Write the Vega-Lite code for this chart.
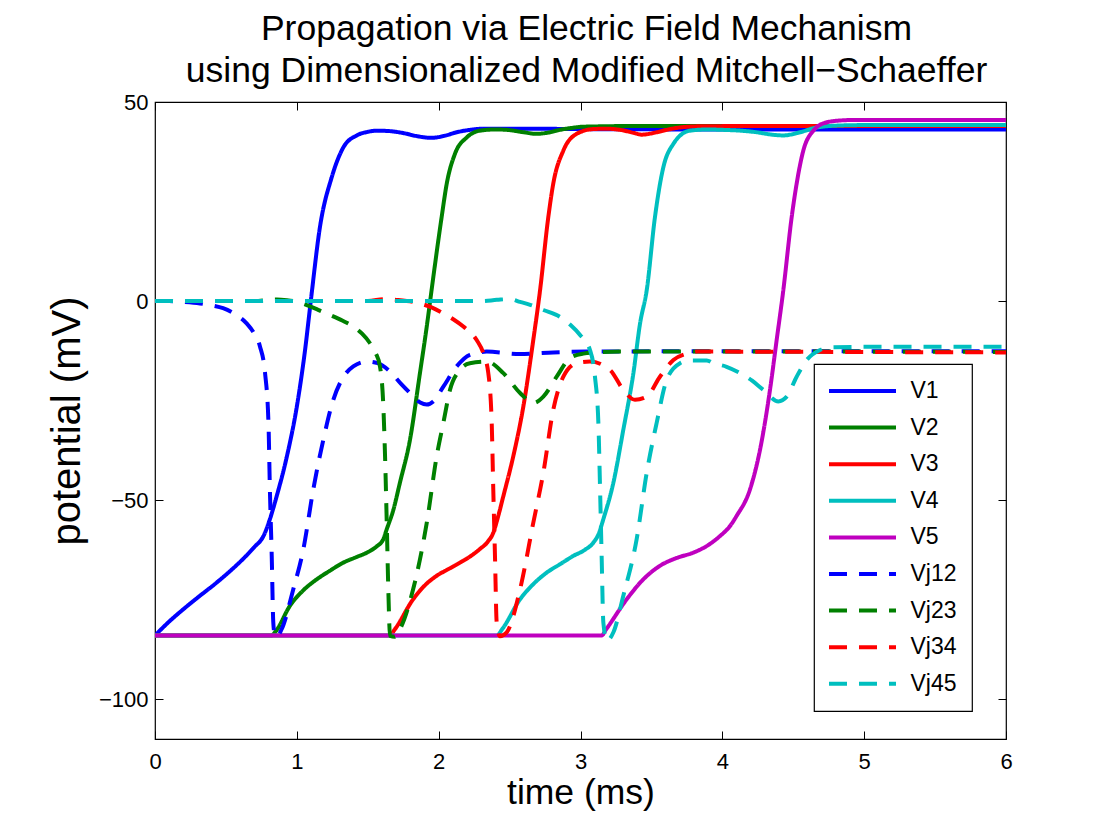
{
  "$schema": "https://vega.github.io/schema/vega-lite/v6.json",
  "width": 851,
  "height": 637,
  "autosize": {"type": "none"},
  "padding": {"left": 155, "top": 102, "right": 100, "bottom": 87},
  "background": "white",
  "config": {
    "font": "Liberation Sans",
    "view": {"stroke": "black", "strokeWidth": 1.2},
    "legend": {
      "orient": "none",
      "legendX": 659,
      "legendY": 262,
      "padding": 15,
      "strokeColor": "black",
      "strokeWidth": 1.2,
      "fillColor": "white",
      "cornerRadius": 0,
      "symbolType": "M-3.35,0H3.35",
      "symbolSize": 400,
      "symbolStrokeWidth": 4,
      "symbolOffset": 21.5,
      "labelFontSize": 23,
      "labelOffset": 36,
      "labelColor": "black",
      "rowPadding": 12.6,
      "labelLimit": 300
    }
  },
  "title": {
    "text": ["Propagation via Electric Field Mechanism", "using Dimensionalized Modified Mitchell−Schaeffer"],
    "fontSize": 35.5,
    "fontWeight": "normal",
    "lineHeight": 42,
    "offset": 2,
    "anchor": "middle",
    "dx": 6,
    "color": "black"
  },
  "layer": [
    {
      "data": {
        "values": [
          {"s":"V1","t":0,"v":-84},{"s":"V1","t":0.1,"v":-80.5},{"s":"V1","t":0.2,"v":-77.4},{"s":"V1","t":0.3,"v":-74.5},{"s":"V1","t":0.435,"v":-70.7},{"s":"V1","t":0.53,"v":-67.8},{"s":"V1","t":0.62,"v":-64.8},{"s":"V1","t":0.7,"v":-61.8},{"s":"V1","t":0.765,"v":-59},{"s":"V1","t":0.81,"v":-54.8},{"s":"V1","t":0.858,"v":-49},{"s":"V1","t":0.93,"v":-39},{"s":"V1","t":1.0,"v":-26.5},{"s":"V1","t":1.058,"v":-12.3},{"s":"V1","t":1.1,"v":0.5},{"s":"V1","t":1.163,"v":18.6},{"s":"V1","t":1.246,"v":31.1},{"s":"V1","t":1.328,"v":38.6},{"s":"V1","t":1.422,"v":41.6},{"s":"V1","t":1.5,"v":42.5},{"s":"V1","t":1.563,"v":42.8},{"s":"V1","t":1.65,"v":42.7},{"s":"V1","t":1.75,"v":42.2},{"s":"V1","t":1.85,"v":41.4},{"s":"V1","t":1.95,"v":41.0},{"s":"V1","t":2.04,"v":41.5},{"s":"V1","t":2.127,"v":42.4},{"s":"V1","t":2.22,"v":43.0},{"s":"V1","t":2.315,"v":43.3},{"s":"V1","t":2.6,"v":43.3},{"s":"V1","t":3,"v":43.2},{"s":"V1","t":4,"v":43.1},{"s":"V1","t":5,"v":43.1},{"s":"V1","t":6,"v":43.1},
          {"s":"V2","t":0,"v":-84},{"s":"V2","t":0.82,"v":-84},{"s":"V2","t":0.85,"v":-83},{"s":"V2","t":0.952,"v":-76.5},{"s":"V2","t":1.05,"v":-72.5},{"s":"V2","t":1.14,"v":-69.9},{"s":"V2","t":1.23,"v":-67.8},{"s":"V2","t":1.328,"v":-65.7},{"s":"V2","t":1.42,"v":-64.3},{"s":"V2","t":1.493,"v":-63.2},{"s":"V2","t":1.56,"v":-61.7},{"s":"V2","t":1.61,"v":-59.8},{"s":"V2","t":1.634,"v":-57.3},{"s":"V2","t":1.68,"v":-52.5},{"s":"V2","t":1.727,"v":-45.6},{"s":"V2","t":1.798,"v":-34.8},{"s":"V2","t":1.868,"v":-18.1},{"s":"V2","t":1.916,"v":-6.4},{"s":"V2","t":1.95,"v":2.75},{"s":"V2","t":2.021,"v":21.1},{"s":"V2","t":2.057,"v":29.5},{"s":"V2","t":2.115,"v":37},{"s":"V2","t":2.198,"v":41.1},{"s":"V2","t":2.291,"v":42.8},{"s":"V2","t":2.4,"v":43.1},{"s":"V2","t":2.48,"v":43},{"s":"V2","t":2.6,"v":42.4},{"s":"V2","t":2.69,"v":42.0},{"s":"V2","t":2.77,"v":42.3},{"s":"V2","t":2.855,"v":43},{"s":"V2","t":2.94,"v":43.5},{"s":"V2","t":3.02,"v":43.8},{"s":"V2","t":3.5,"v":44},{"s":"V2","t":4,"v":44},{"s":"V2","t":5,"v":44},{"s":"V2","t":6,"v":44},
          {"s":"V3","t":0,"v":-84},{"s":"V3","t":1.655,"v":-84},{"s":"V3","t":1.69,"v":-82.5},{"s":"V3","t":1.82,"v":-74.9},{"s":"V3","t":1.9,"v":-71.5},{"s":"V3","t":1.986,"v":-69},{"s":"V3","t":2.07,"v":-67.3},{"s":"V3","t":2.15,"v":-65.7},{"s":"V3","t":2.22,"v":-64.2},{"s":"V3","t":2.29,"v":-62.3},{"s":"V3","t":2.345,"v":-60.5},{"s":"V3","t":2.385,"v":-58.2},{"s":"V3","t":2.42,"v":-54},{"s":"V3","t":2.456,"v":-49},{"s":"V3","t":2.526,"v":-39},{"s":"V3","t":2.597,"v":-26.5},{"s":"V3","t":2.667,"v":-9.8},{"s":"V3","t":2.715,"v":2.75},{"s":"V3","t":2.773,"v":21.1},{"s":"V3","t":2.808,"v":29.5},{"s":"V3","t":2.879,"v":37.8},{"s":"V3","t":2.973,"v":42},{"s":"V3","t":3.09,"v":43.2},{"s":"V3","t":3.18,"v":43.3},{"s":"V3","t":3.28,"v":43},{"s":"V3","t":3.38,"v":42.2},{"s":"V3","t":3.43,"v":41.8},{"s":"V3","t":3.537,"v":42.4},{"s":"V3","t":3.62,"v":43.1},{"s":"V3","t":3.7,"v":43.6},{"s":"V3","t":3.85,"v":43.9},{"s":"V3","t":4.5,"v":44},{"s":"V3","t":6,"v":44},
          {"s":"V4","t":0,"v":-84},{"s":"V4","t":2.41,"v":-84},{"s":"V4","t":2.45,"v":-82.3},{"s":"V4","t":2.574,"v":-74.9},{"s":"V4","t":2.67,"v":-71},{"s":"V4","t":2.762,"v":-68.2},{"s":"V4","t":2.86,"v":-66},{"s":"V4","t":2.95,"v":-64},{"s":"V4","t":3.03,"v":-62.5},{"s":"V4","t":3.09,"v":-60.7},{"s":"V4","t":3.13,"v":-58.3},{"s":"V4","t":3.161,"v":-54.8},{"s":"V4","t":3.232,"v":-45.6},{"s":"V4","t":3.302,"v":-32.3},{"s":"V4","t":3.373,"v":-18.1},{"s":"V4","t":3.42,"v":-5.6},{"s":"V4","t":3.467,"v":2.75},{"s":"V4","t":3.525,"v":21.1},{"s":"V4","t":3.584,"v":33.6},{"s":"V4","t":3.655,"v":39.5},{"s":"V4","t":3.772,"v":42.8},{"s":"V4","t":3.9,"v":43.1},{"s":"V4","t":4.007,"v":43},{"s":"V4","t":4.13,"v":42.8},{"s":"V4","t":4.242,"v":42.4},{"s":"V4","t":4.35,"v":41.8},{"s":"V4","t":4.43,"v":41.6},{"s":"V4","t":4.548,"v":42.4},{"s":"V4","t":4.665,"v":43.6},{"s":"V4","t":4.83,"v":44.1},{"s":"V4","t":5,"v":44.2},{"s":"V4","t":6,"v":44.2},
          {"s":"V5","t":0,"v":-84},{"s":"V5","t":3.149,"v":-84},{"s":"V5","t":3.18,"v":-82.5},{"s":"V5","t":3.326,"v":-74.9},{"s":"V5","t":3.44,"v":-70},{"s":"V5","t":3.56,"v":-66.5},{"s":"V5","t":3.68,"v":-64.5},{"s":"V5","t":3.795,"v":-63.2},{"s":"V5","t":3.9,"v":-61.3},{"s":"V5","t":3.984,"v":-59},{"s":"V5","t":4.05,"v":-56.7},{"s":"V5","t":4.1,"v":-54},{"s":"V5","t":4.195,"v":-47.3},{"s":"V5","t":4.266,"v":-37.3},{"s":"V5","t":4.336,"v":-22.3},{"s":"V5","t":4.383,"v":-9.8},{"s":"V5","t":4.43,"v":2.75},{"s":"V5","t":4.489,"v":21.1},{"s":"V5","t":4.524,"v":29.5},{"s":"V5","t":4.571,"v":37.8},{"s":"V5","t":4.642,"v":42.8},{"s":"V5","t":4.736,"v":44.9},{"s":"V5","t":4.85,"v":45.4},{"s":"V5","t":4.947,"v":45.5},{"s":"V5","t":6,"v":45.5},
          {"s":"Vj12","t":0,"v":0},{"s":"Vj12","t":0.1,"v":0},{"s":"Vj12","t":0.2,"v":-0.2},{"s":"Vj12","t":0.317,"v":-0.6},{"s":"Vj12","t":0.4,"v":-1.1},{"s":"Vj12","t":0.48,"v":-1.8},{"s":"Vj12","t":0.56,"v":-3.2},{"s":"Vj12","t":0.646,"v":-5.6},{"s":"Vj12","t":0.7,"v":-8.2},{"s":"Vj12","t":0.74,"v":-11.4},{"s":"Vj12","t":0.776,"v":-18.1},{"s":"Vj12","t":0.8,"v":-30.6},{"s":"Vj12","t":0.81,"v":-47.3},{"s":"Vj12","t":0.823,"v":-64},{"s":"Vj12","t":0.834,"v":-80.7},{"s":"Vj12","t":0.845,"v":-84},{"s":"Vj12","t":0.86,"v":-84.2},{"s":"Vj12","t":0.893,"v":-82.4},{"s":"Vj12","t":0.975,"v":-72.4},{"s":"Vj12","t":1.046,"v":-62.3},{"s":"Vj12","t":1.116,"v":-47.3},{"s":"Vj12","t":1.187,"v":-34.8},{"s":"Vj12","t":1.257,"v":-24.8},{"s":"Vj12","t":1.316,"v":-19.8},{"s":"Vj12","t":1.398,"v":-16.4},{"s":"Vj12","t":1.493,"v":-15.2},{"s":"Vj12","t":1.57,"v":-15.6},{"s":"Vj12","t":1.657,"v":-17.7},{"s":"Vj12","t":1.74,"v":-21},{"s":"Vj12","t":1.798,"v":-23.1},{"s":"Vj12","t":1.87,"v":-25.5},{"s":"Vj12","t":1.916,"v":-26},{"s":"Vj12","t":1.962,"v":-25.2},{"s":"Vj12","t":2.033,"v":-21.5},{"s":"Vj12","t":2.127,"v":-16.4},{"s":"Vj12","t":2.22,"v":-13.5},{"s":"Vj12","t":2.339,"v":-12.7},{"s":"Vj12","t":2.574,"v":-13.3},{"s":"Vj12","t":2.808,"v":-12.9},{"s":"Vj12","t":3.04,"v":-12.7},{"s":"Vj12","t":4,"v":-12.6},{"s":"Vj12","t":5,"v":-12.6},{"s":"Vj12","t":6,"v":-12.6},
          {"s":"Vj23","t":0,"v":0},{"s":"Vj23","t":0.7,"v":0},{"s":"Vj23","t":0.86,"v":0.4},{"s":"Vj23","t":0.93,"v":0.2},{"s":"Vj23","t":1.0,"v":-0.2},{"s":"Vj23","t":1.07,"v":-1.0},{"s":"Vj23","t":1.15,"v":-2.2},{"s":"Vj23","t":1.234,"v":-3.5},{"s":"Vj23","t":1.32,"v":-4.9},{"s":"Vj23","t":1.398,"v":-6.4},{"s":"Vj23","t":1.46,"v":-8.2},{"s":"Vj23","t":1.516,"v":-10.6},{"s":"Vj23","t":1.555,"v":-13},{"s":"Vj23","t":1.586,"v":-16.4},{"s":"Vj23","t":1.61,"v":-26.5},{"s":"Vj23","t":1.622,"v":-39},{"s":"Vj23","t":1.634,"v":-55.7},{"s":"Vj23","t":1.645,"v":-72.4},{"s":"Vj23","t":1.657,"v":-84.1},{"s":"Vj23","t":1.69,"v":-84.3},{"s":"Vj23","t":1.727,"v":-82.4},{"s":"Vj23","t":1.82,"v":-72.4},{"s":"Vj23","t":1.916,"v":-55.7},{"s":"Vj23","t":1.986,"v":-39},{"s":"Vj23","t":2.033,"v":-30.6},{"s":"Vj23","t":2.08,"v":-22.3},{"s":"Vj23","t":2.15,"v":-17.3},{"s":"Vj23","t":2.22,"v":-15.6},{"s":"Vj23","t":2.339,"v":-15.2},{"s":"Vj23","t":2.456,"v":-18.1},{"s":"Vj23","t":2.574,"v":-23.1},{"s":"Vj23","t":2.667,"v":-25.6},{"s":"Vj23","t":2.738,"v":-24},{"s":"Vj23","t":2.832,"v":-19},{"s":"Vj23","t":2.926,"v":-14.3},{"s":"Vj23","t":3.02,"v":-13.2},{"s":"Vj23","t":3.114,"v":-12.9},{"s":"Vj23","t":3.28,"v":-12.7},{"s":"Vj23","t":4,"v":-12.7},{"s":"Vj23","t":5,"v":-12.7},{"s":"Vj23","t":6,"v":-12.8},
          {"s":"Vj34","t":0,"v":0},{"s":"Vj34","t":1.5,"v":0},{"s":"Vj34","t":1.62,"v":0.5},{"s":"Vj34","t":1.7,"v":0.3},{"s":"Vj34","t":1.868,"v":-0.6},{"s":"Vj34","t":1.95,"v":-1.6},{"s":"Vj34","t":2.033,"v":-3.1},{"s":"Vj34","t":2.1,"v":-4.5},{"s":"Vj34","t":2.174,"v":-6.4},{"s":"Vj34","t":2.268,"v":-9.8},{"s":"Vj34","t":2.315,"v":-13.1},{"s":"Vj34","t":2.35,"v":-18.1},{"s":"Vj34","t":2.374,"v":-30.6},{"s":"Vj34","t":2.385,"v":-47.3},{"s":"Vj34","t":2.397,"v":-64},{"s":"Vj34","t":2.409,"v":-80.7},{"s":"Vj34","t":2.432,"v":-84.2},{"s":"Vj34","t":2.48,"v":-83.2},{"s":"Vj34","t":2.574,"v":-72.4},{"s":"Vj34","t":2.667,"v":-55.7},{"s":"Vj34","t":2.738,"v":-43.1},{"s":"Vj34","t":2.808,"v":-27.3},{"s":"Vj34","t":2.879,"v":-19},{"s":"Vj34","t":2.973,"v":-15.6},{"s":"Vj34","t":3.067,"v":-15.2},{"s":"Vj34","t":3.208,"v":-17.3},{"s":"Vj34","t":3.302,"v":-22.3},{"s":"Vj34","t":3.384,"v":-24.8},{"s":"Vj34","t":3.467,"v":-24},{"s":"Vj34","t":3.56,"v":-19},{"s":"Vj34","t":3.655,"v":-14.8},{"s":"Vj34","t":3.75,"v":-13.2},{"s":"Vj34","t":3.82,"v":-12.7},{"s":"Vj34","t":4.03,"v":-12.7},{"s":"Vj34","t":5,"v":-12.8},{"s":"Vj34","t":6,"v":-12.9},
          {"s":"Vj45","t":0,"v":0},{"s":"Vj45","t":2.3,"v":0},{"s":"Vj45","t":2.41,"v":0.3},{"s":"Vj45","t":2.5,"v":0.5},{"s":"Vj45","t":2.574,"v":-0.2},{"s":"Vj45","t":2.65,"v":-1},{"s":"Vj45","t":2.738,"v":-2.25},{"s":"Vj45","t":2.856,"v":-4},{"s":"Vj45","t":2.93,"v":-6},{"s":"Vj45","t":2.997,"v":-8.5},{"s":"Vj45","t":3.067,"v":-12.3},{"s":"Vj45","t":3.102,"v":-19},{"s":"Vj45","t":3.126,"v":-30.6},{"s":"Vj45","t":3.138,"v":-47.3},{"s":"Vj45","t":3.149,"v":-64},{"s":"Vj45","t":3.161,"v":-80.7},{"s":"Vj45","t":3.185,"v":-85.3},{"s":"Vj45","t":3.232,"v":-83.2},{"s":"Vj45","t":3.302,"v":-74},{"s":"Vj45","t":3.396,"v":-59.8},{"s":"Vj45","t":3.467,"v":-43.1},{"s":"Vj45","t":3.537,"v":-30.6},{"s":"Vj45","t":3.608,"v":-19.8},{"s":"Vj45","t":3.702,"v":-15.6},{"s":"Vj45","t":3.772,"v":-14.9},{"s":"Vj45","t":3.89,"v":-14.9},{"s":"Vj45","t":3.937,"v":-15.6},{"s":"Vj45","t":4.03,"v":-16.5},{"s":"Vj45","t":4.125,"v":-18.1},{"s":"Vj45","t":4.21,"v":-20},{"s":"Vj45","t":4.289,"v":-22.3},{"s":"Vj45","t":4.395,"v":-25.2},{"s":"Vj45","t":4.454,"v":-24},{"s":"Vj45","t":4.524,"v":-19},{"s":"Vj45","t":4.595,"v":-14.8},{"s":"Vj45","t":4.689,"v":-12.3},{"s":"Vj45","t":4.76,"v":-11.6},{"s":"Vj45","t":5,"v":-11.5},{"s":"Vj45","t":6,"v":-11.5}
        ]
      },
      "mark": {"type": "line", "strokeWidth": 4, "strokeCap": "butt", "strokeJoin": "round", "interpolate": "monotone", "clip": true},
      "encoding": {
        "x": {
          "field": "t", "type": "quantitative",
          "scale": {"domain": [0, 6], "nice": false, "zero": false},
          "axis": {"orient": "bottom", "values": [0,1,2,3,4,5,6], "format": "d", "tickSize": -8, "tickColor": "black", "labelPadding": 20, "labelFontSize": 22, "labelColor": "black", "labelFlush": false, "labelOverlap": false, "grid": false, "domain": false, "title": "time (ms)", "titleFontSize": 35.5, "titleFontWeight": "normal", "titleColor": "black", "titlePadding": 3}
        },
        "y": {
          "field": "v", "type": "quantitative",
          "scale": {"domain": [-110, 50], "nice": false, "zero": false},
          "axis": {"orient": "left", "values": [-100,-50,0,50], "format": "d", "tickSize": -8, "tickColor": "black", "labelPadding": 15, "labelFontSize": 22, "labelColor": "black", "labelFlush": false, "labelOverlap": false, "grid": false, "domain": false, "title": "potential (mV)", "titleFontSize": 40, "titleFontWeight": "normal", "titleColor": "black", "titlePadding": 11}
        },
        "color": {
          "field": "s", "type": "nominal",
          "scale": {
            "domain": ["V1","V2","V3","V4","V5","Vj12","Vj23","Vj34","Vj45"],
            "range": ["#0000ff","#008000","#ff0000","#00bfbf","#bf00bf","#0000ff","#008000","#ff0000","#00bfbf"]
          },
          "legend": {
            "title": null,
            "encode": {"symbols": {"update": {"strokeDash": {"signal": "indexof(['Vj12','Vj23','Vj34','Vj45'], datum.value) >= 0 ? [13,14] : [1,0]"}}}}
          }
        },
        "strokeDash": {
          "field": "s", "type": "nominal",
          "scale": {
            "domain": ["V1","V2","V3","V4","V5","Vj12","Vj23","Vj34","Vj45"],
            "range": [[1,0],[1,0],[1,0],[1,0],[1,0],[18,12],[18,12],[18,12],[18,12]]
          },
          "legend": null
        }
      }
    },
    {
      "data": {"values": [{"t": 0, "v": 0}]},
      "mark": {"type": "point", "opacity": 0},
      "encoding": {
        "x": {"field": "t", "type": "quantitative", "axis": {"orient": "top", "values": [0,1,2,3,4,5,6], "tickSize": -8, "tickColor": "black", "labels": false, "grid": false, "domain": false, "title": null}},
        "y": {"field": "v", "type": "quantitative", "axis": {"orient": "right", "values": [-100,-50,0,50], "tickSize": -8, "tickColor": "black", "labels": false, "grid": false, "domain": false, "title": null}}
      }
    }
  ],
  "resolve": {"axis": {"x": "independent", "y": "independent"}}
}
